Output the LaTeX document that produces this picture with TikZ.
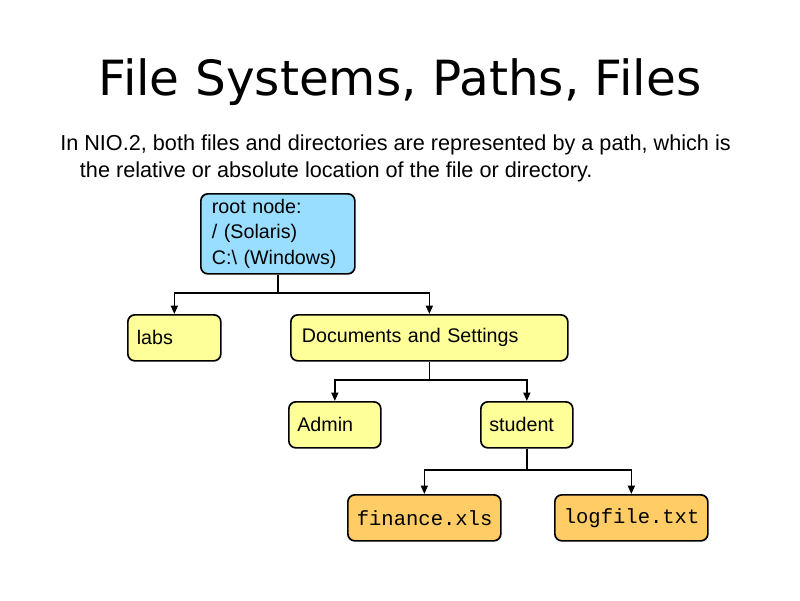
\documentclass[tikz,border=0pt]{standalone}
\usepackage{fontspec}
\setmainfont{Liberation Sans}
\setmonofont{Liberation Mono}
\newfontfamily\titlefont{DejaVu Sans}
\usetikzlibrary{arrows.meta}
\definecolor{dirfill}{HTML}{FFFF99}
\definecolor{rootfill}{HTML}{99DDFF}
\definecolor{filefill}{HTML}{FFCC66}
\tikzset{
  dirbox/.style={draw, line width=1.2pt, rounded corners=5pt, fill=dirfill, anchor=north west,
    align=left, inner sep=0pt, font=\fontsize{14}{18}\selectfont},
  filebox/.style={dirbox, fill=filefill, font=\ttfamily\fontsize{14.6}{18}\selectfont},
  link/.style={line width=1.2pt, -{Triangle[length=6pt,width=5pt]}}
}
\begin{document}
\begin{tikzpicture}[x=0.025cm, y=-0.025cm]
		\useasboundingbox (0,0) rectangle (800,600);

		\node[font=\titlefont\fontsize{34.5}{40}\selectfont] (title) at (400,82) {File Systems, Paths, Files};
		\node[anchor=north west, align=left, inner sep=0pt, font=\fontsize{15.4}{19}\selectfont] (intro) at (60,135)
			{In NIO.2, both files and directories are represented by a path, which is\\
			\hspace{14pt}the relative or absolute location of the file or directory.};

		% directory boxes
		\node[dirbox, fill=rootfill, minimum width=154*0.025cm, minimum height=80*0.025cm, text width=132*0.025cm] (root) at (200,193)
			{root node:\\/ (Solaris)\\C:\textbackslash\ (Windows)};
		\node[dirbox, minimum width=93*0.025cm, minimum height=46*0.025cm, text width=75*0.025cm] (labs) at (127,314) {labs};
		\node[dirbox, minimum width=277*0.025cm, minimum height=46*0.025cm, text width=255*0.025cm] (docs) at (290,314) {Documents and Settings};
		\node[dirbox, minimum width=92*0.025cm, minimum height=46*0.025cm, text width=75*0.025cm] (admin) at (288,401) {Admin};
		\node[dirbox, minimum width=92*0.025cm, minimum height=46*0.025cm, text width=75*0.025cm] (student) at (480,401) {student};
		% files
		\node[filebox, minimum width=153*0.025cm, minimum height=46*0.025cm, text width=135*0.025cm] (finance) at (347,494) {finance.xls};
		\node[filebox, minimum width=153*0.025cm, minimum height=46*0.025cm, text width=135*0.025cm] (logfile) at (554,494) {logfile.txt};

		% connectors
		\coordinate (j1) at (root.south |- 0,293);
		\coordinate (j2) at (docs.south |- 0,380);
		\coordinate (j3) at (student.south |- 0,470);
		\draw[line width=1.2pt] (root.south) -- (j1);
		\draw[link] (j1) -| (labs.north);
		\draw[link] (j1) -| (docs.north);
		\draw[line width=1.2pt] (docs.south) -- (j2);
		\draw[link] (j2) -| (admin.north);
		\draw[link] (j2) -| (student.north);
		\draw[line width=1.2pt] (student.south) -- (j3);
		\draw[link] (j3) -| (finance.north);
		\draw[link] (j3) -| (logfile.north);
	\end{tikzpicture}
\end{document}
